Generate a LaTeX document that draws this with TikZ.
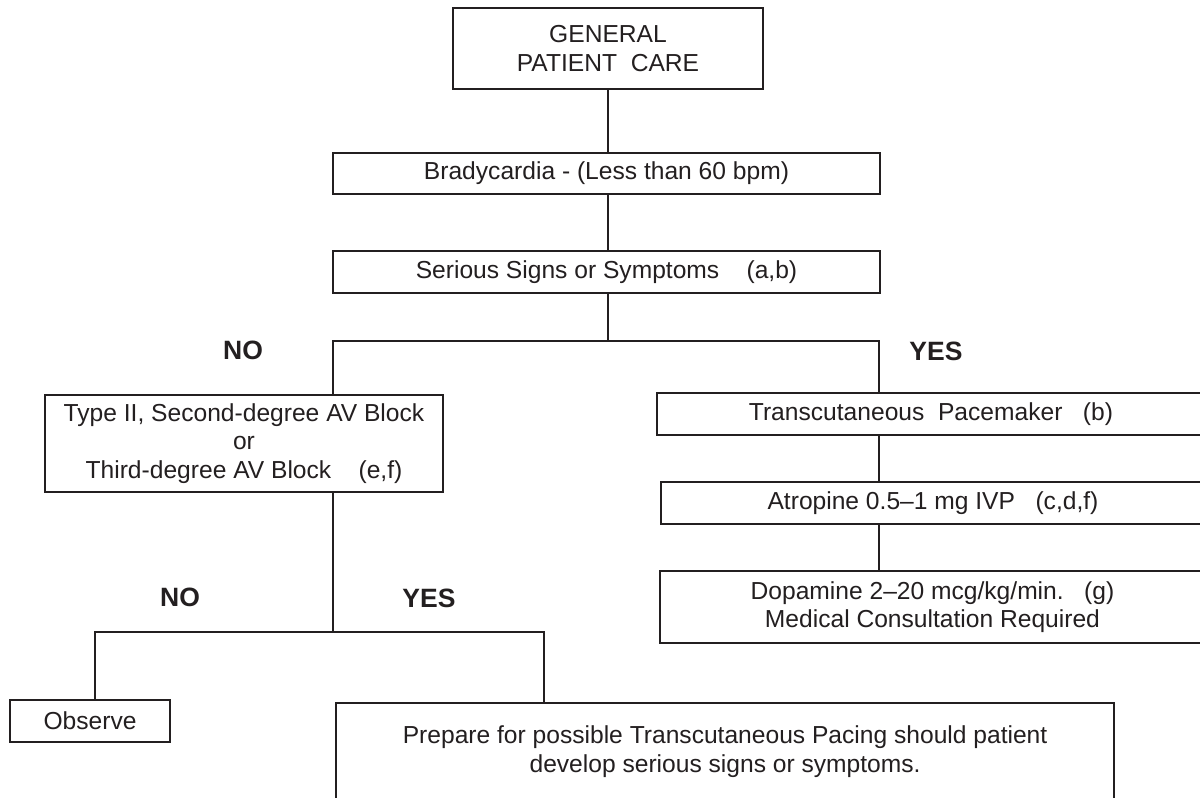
\documentclass[tikz,border=0pt]{standalone}
\usepackage{fontspec}
\setmainfont{Liberation Sans}
\definecolor{ink}{HTML}{231F20}
\begin{document}
\begin{tikzpicture}[x=1pt,y=1pt,
  box/.style={draw=ink, line width=2.2pt, text=ink, inner sep=0pt, align=center, font=\fontsize{24.6}{28.5}\selectfont},
  lab/.style={text=ink, inner sep=0pt, font=\fontsize{26.5}{30}\selectfont\bfseries},
  conn/.style={draw=ink, line width=2.4pt}]
\path[use as bounding box, clip] (0,0) rectangle (1200,-798);
\fill[white] (0,0) rectangle (1200,-798);
% boxes
\node[box, minimum width=310pt, minimum height=81pt] (top) at (608,-48.5) {GENERAL\\PATIENT\ \ CARE};
\node[box, minimum width=547pt, minimum height=41pt] (brady) at (606.5,-173.5) {Bradycardia - (Less than 60 bpm)};
\node[box, minimum width=547pt, minimum height=42pt] (serious) at (606.5,-272) {Serious Signs or Symptoms\ \ \ \ (a,b)};
\node[box, minimum width=398pt, minimum height=97pt] (typeII) at (244,-443.5) {Type II, Second-degree AV Block\\or\\Third-degree AV Block\ \ \ \ (e,f)};
\node[box, minimum width=548pt, minimum height=42pt] (trans) at (931,-414) {Transcutaneous\ \ Pacemaker\ \ \ (b)};
\node[box, minimum width=544pt, minimum height=42pt] (atro) at (933,-503) {Atropine 0.5--1 mg IVP\ \ \ (c,d,f)};
\node[box, minimum width=545pt, minimum height=72pt] (dopa) at (932.5,-607) {Dopamine 2--20 mcg/kg/min.\ \ \ (g)\\Medical Consultation Required};
\node[box, minimum width=160pt, minimum height=42pt] (obs) at (90,-721) {Observe};
\node[box, anchor=north west] (prep) at (335,-702) {\parbox[c][130pt][t]{778pt}{\centering\vspace*{23pt}Prepare for possible Transcutaneous Pacing should patient\\ develop serious signs or symptoms.}};
% labels
\node[lab] (no1) at (243,-350) {NO};
\node[lab] (yes1) at (936,-351) {YES};
\node[lab] (no2) at (180,-597) {NO};
\node[lab] (yes2) at (429,-598) {YES};
% branch points
\coordinate (bM) at (608,-341);
\coordinate (bL) at (333,-341);
\coordinate (bR) at (879,-341);
\coordinate (cM) at (333,-632);
\coordinate (cL) at (95,-632);
\coordinate (cR) at (544,-632);
% connectors
\draw[conn] (top.south) -- (top.south |- brady.north);
\draw[conn] (top.south |- brady.south) -- (top.south |- serious.north);
\draw[conn] (top.south |- serious.south) -- (bM);
\draw[conn] (bL |- typeII.north) -- (bL) -- (bR) -- (bR |- trans.north);
\draw[conn] (bR |- trans.south) -- (bR |- atro.north);
\draw[conn] (bR |- atro.south) -- (bR |- dopa.north);
\draw[conn] (cM |- typeII.south) -- (cM);
\draw[conn] (cL |- obs.north) -- (cL) -- (cR) -- (cR |- prep.north);
\end{tikzpicture}
\end{document}
